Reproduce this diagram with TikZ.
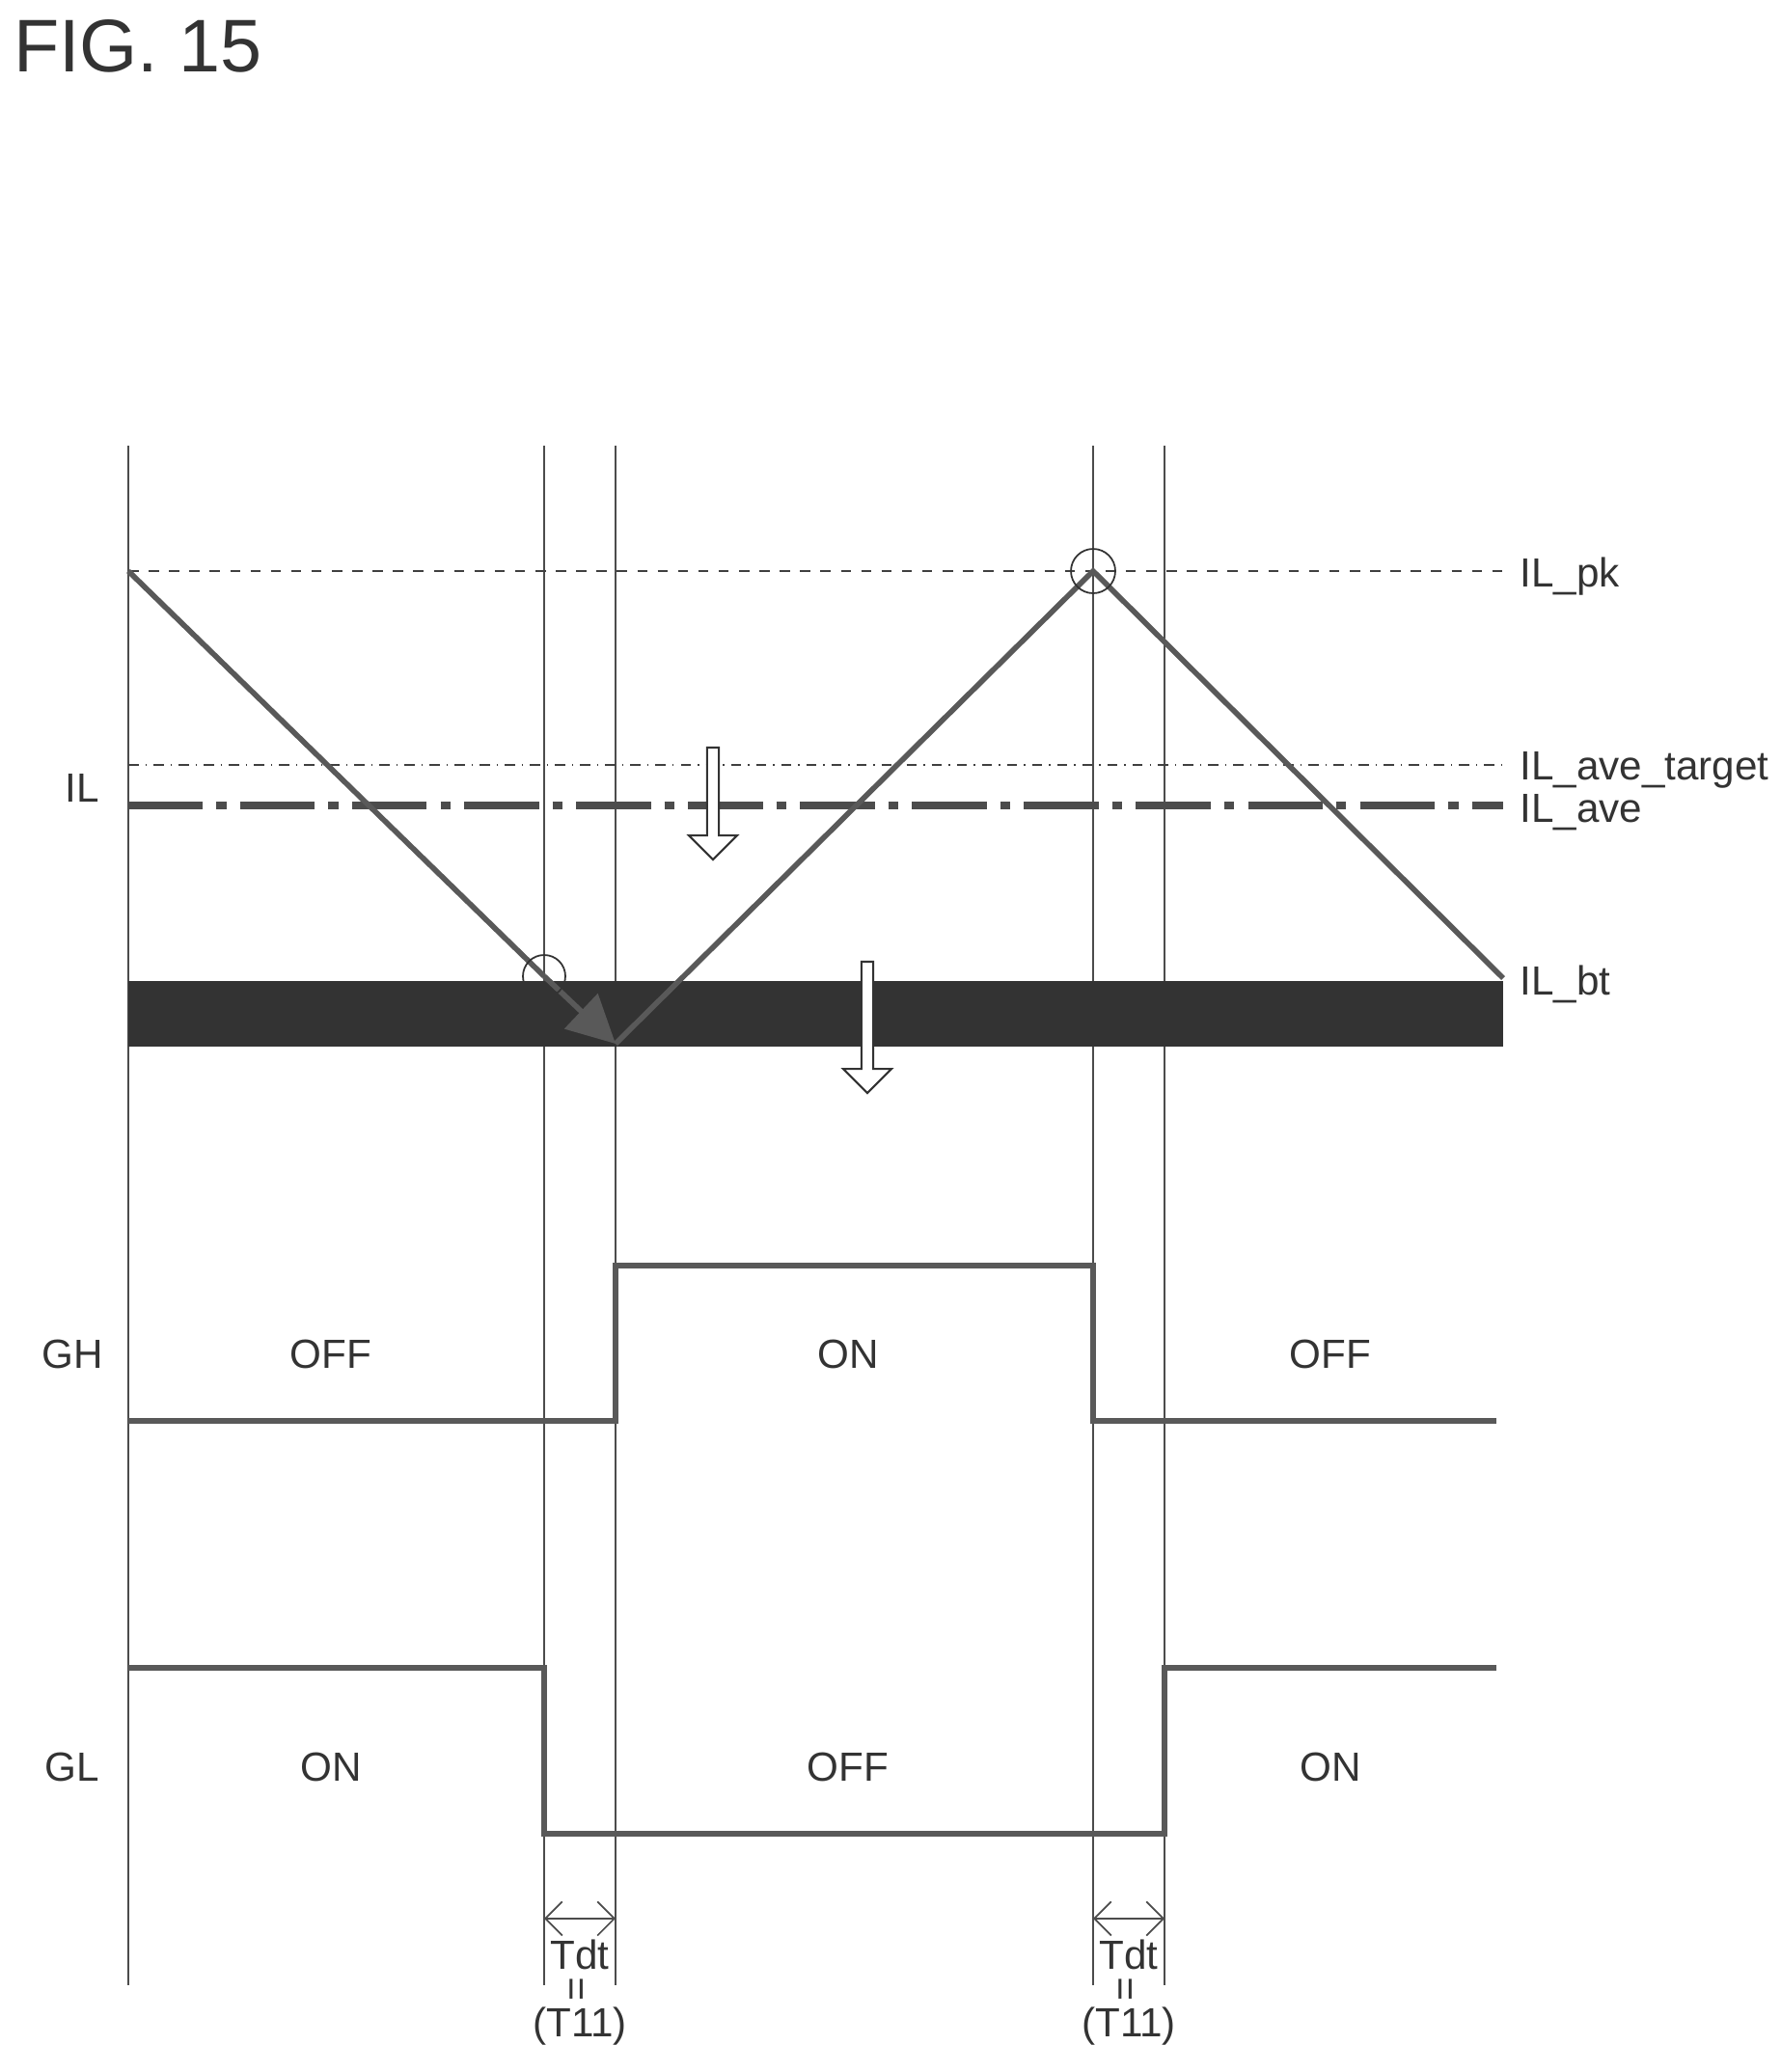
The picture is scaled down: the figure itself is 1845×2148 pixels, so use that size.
\documentclass[tikz,border=0pt]{standalone}
\usepackage{fontspec}
\setmainfont{Liberation Sans}
\usetikzlibrary{arrows.meta,shapes.arrows}
\begin{document}
\begin{tikzpicture}[x=0.01cm,y=-0.01cm,
    lbl/.style={font=\fontsize{12}{14}\selectfont,text=black!80},
    grid/.style={black!70,line width=0.5pt},
    wave/.style={black!65,line width=1.6pt},
    hollow/.style={draw=black!80,fill=white,line width=0.6pt,
      single arrow head extend=0.12cm}]
    \useasboundingbox (0,0) rectangle (1845,2148);
    \node[font=\fontsize{22}{26}\selectfont,text=black!80] (fig) at (143,48) {FIG. 15};

    % time marks
    \foreach \x/\n in {133/ta,564/tb,638/tc,1133/td,1207/te} {
        \coordinate (\n top) at (\x,462);
        \coordinate (\n bot) at (\x,2058);
        \draw[grid] (\n top) -- (\n bot);
    }

    % levels
    \fill[black!80] (133,1017) rectangle (1558,1085);
    \coordinate (pkL) at (133,592);  \coordinate (pkR) at (1558,592);
    \coordinate (atL) at (133,793);  \coordinate (atR) at (1558,793);
    \coordinate (avL) at (133,835);  \coordinate (avR) at (1558,835);
    \draw[black!75,dashed,line width=0.6pt] (pkL) -- (pkR);
    \draw[black!75,dash dot,line width=0.6pt] (atL) -- (atR);
    \draw[black!70,dash pattern=on 22pt off 4pt on 3pt off 4pt,line width=2.2pt] (avL) -- (avR);
    \node[lbl,anchor=west] (ILpk) at (1563,598) {IL\_pk};
    \node[lbl,anchor=west] (ILat) at (1563,798) {IL\_ave\_target};
    \node[lbl,anchor=west] (ILav) at (1563,842) {IL\_ave};
    \node[lbl,anchor=west] (ILbt) at (1563,1020) {IL\_bt};
    \node[lbl] (IL) at (85,817) {IL};

    % inductor current
    \coordinate (v0) at (133,592);
    \coordinate (v1) at (564,1012);
    \coordinate (v2) at (638,1082);
    \coordinate (v3) at (1133,592);
    \coordinate (v4) at (1558,1014);
    \draw[wave] (v0) -- (v1);
    \draw[wave,-{Triangle[length=14pt,width=14pt]}] (v1) -- (v2);
    \draw[wave] (v2) -- (v3) -- (v4);
    \draw[black!80,line width=0.5pt] (v1) circle (22);
    \draw[black!80,line width=0.5pt] (v3) circle (23);

    % shift arrows
    \node[hollow,single arrow,shape border rotate=270,minimum height=1.16cm,
        minimum width=0.5cm,inner sep=0.8pt] (dnA) at (739,830) {};
    \node[hollow,single arrow,shape border rotate=270,minimum height=1.36cm,
        minimum width=0.5cm,inner sep=0.8pt] (dnB) at (899,1062) {};

    % gate signals
    \draw[wave] (133,1473) -- (638,1473) -- (638,1312) -- (1133,1312) -- (1133,1473) -- (1551,1473);
    \draw[wave] (133,1729) -- (564,1729) -- (564,1901) -- (1207,1901) -- (1207,1729) -- (1551,1729);
    \node[lbl] (GH) at (75,1404) {GH};
    \node[lbl] (GL) at (75,1832) {GL};
    \foreach \x/\a/\b in {343/OFF/ON,879/ON/OFF,1379/OFF/ON} {
        \node[lbl] at (\x,1404) {\a};
        \node[lbl] at (\x,1832) {\b};
    }

    % dead time
    \foreach \n/\m in {tb/tc,td/te} {
        \draw[black!70,line width=0.5pt,{Straight Barb[length=5pt]}-{Straight Barb[length=5pt]}]
            ([yshift=0.69cm]\n bot) -- ([yshift=0.69cm]\m bot);
        \node[lbl,inner sep=0pt] at ([xshift=0.37cm,yshift=0.32cm]\n bot) {Tdt};
        \node[lbl,inner sep=0pt] at ([xshift=0.37cm,yshift=-0.04cm]\n bot) {\rotatebox{90}{=}};
        \node[lbl,inner sep=0pt] at ([xshift=0.37cm,yshift=-0.43cm]\n bot) {(T11)};
    }
\end{tikzpicture}
\end{document}
